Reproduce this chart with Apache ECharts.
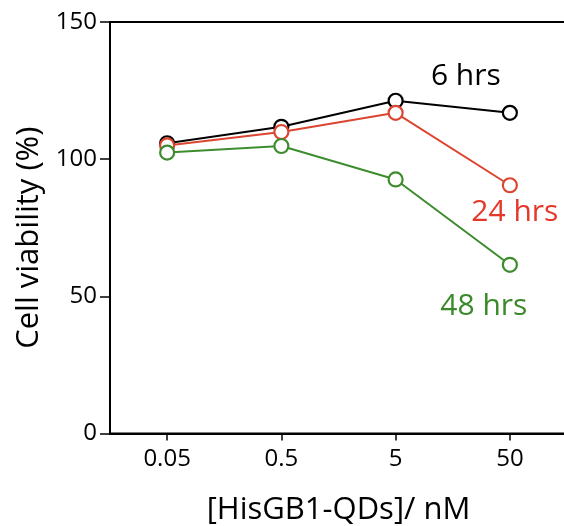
<!DOCTYPE html>
<html>
<head>
<meta charset="utf-8">
<script src="https://cdn.jsdelivr.net/npm/echarts@6/dist/echarts.min.js"></script>
<style>
html,body{margin:0;padding:0;background:#fff;}
#chart{width:564px;height:526px;}
</style>
</head>
<body>
<div id="chart"></div>
<script>
//数据
var concentrations = ['0.05', '0.5', '5', '50'];
var hrs6 = [105.8, 111.8, 121.3, 116.9];
var hrs24 = [105.0, 109.9, 116.9, 90.5];
var hrs48 = [102.4, 104.8, 92.6, 61.5];
var seriesNames = ['6 hrs', '24 hrs', '48 hrs'];
var yTicks = [0, 50, 100, 150];

var fontName = '"Open Sans", "Noto Sans", sans-serif';

//只在最后一个点显示标签
function makeSeries(name, values, color, labelOffset, labelColor) {
    return {
        name: name,
        type: 'line',
        data: values,
        symbol: 'circle',
        symbolSize: 14,
        itemStyle: {
            color: '#fff',
            borderColor: color,
            borderWidth: 2.2
        },
        lineStyle: {
            color: color,
            width: 2
        },
        label: {
            show: true,
            position: 'inside',
            offset: labelOffset,
            color: labelColor,
            fontSize: 30,
            fontFamily: fontName,
            formatter: function (p) {
                return p.dataIndex == values.length - 1 ? name : '';
            }
        },
        emphasis: {disabled: true},
        animation: false
    };
}

var myChart = echarts.init(document.getElementById('chart'));
var option = {
    backgroundColor: '#fff',
    grid: {
        left: 110,
        top: 22,
        width: 457,
        height: 411.5,
        show: true,
        borderColor: '#000',
        borderWidth: 2,
        containLabel: false,
        outerBoundsMode: 'none'
    },
    xAxis: {
        type: 'category',
        data: concentrations,
        boundaryGap: true,
        name: '[HisGB1-QDs]/ nM',
        nameLocation: 'middle',
        nameGap: 61,
        nameTextStyle: {color: '#000', fontSize: 31, fontFamily: fontName},
        axisLine: {lineStyle: {color: '#000', width: 2}},
        axisTick: {show: true, alignWithLabel: true, length: 7, lineStyle: {color: '#000', width: 1.5}},
        axisLabel: {color: '#000', fontSize: 24, fontFamily: fontName, margin: 14},
        splitLine: {show: false}
    },
    yAxis: {
        type: 'value',
        min: yTicks[0],
        max: yTicks[yTicks.length - 1],
        interval: 50,
        name: 'Cell viability (%)',
        nameLocation: 'middle',
        nameGap: 64,
        nameTextStyle: {color: '#000', fontSize: 31, fontFamily: fontName, padding: [0, 20, 0, 0]},
        axisLine: {show: true, lineStyle: {color: '#000', width: 2}},
        axisTick: {show: true, length: 10, lineStyle: {color: '#000', width: 1.5}},
        axisLabel: {color: '#000', fontSize: 24, fontFamily: fontName, margin: 13},
        splitLine: {show: false}
    },
    series: [
        makeSeries(seriesNames[0], hrs6, '#000', [-44, -36], '#000'),
        makeSeries(seriesNames[1], hrs24, '#dc4530', [5, 27], '#e5372a'),
        makeSeries(seriesNames[2], hrs48, '#3d8d2f', [-26, 42], '#3a8a2a')
    ]
};
myChart.setOption(option);
</script>
</body>
</html>
